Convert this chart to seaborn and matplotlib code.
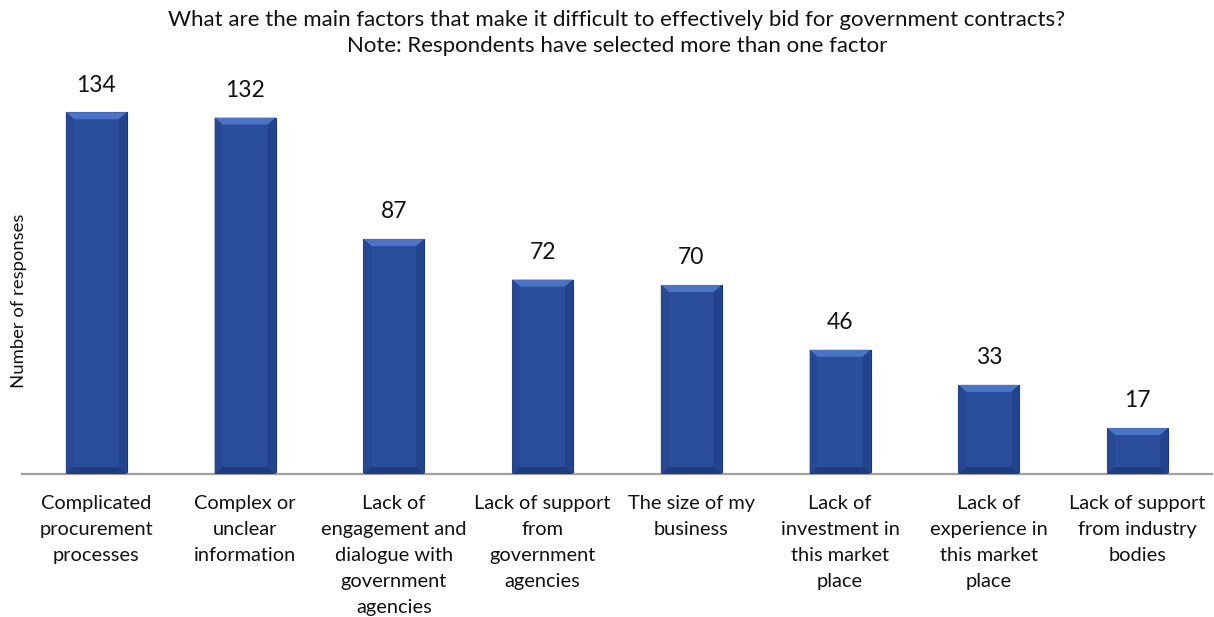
import matplotlib
matplotlib.use("Agg")
import matplotlib.pyplot as plt
import seaborn as sns
import pandas as pd
from matplotlib.patches import Polygon

categories = [
    "Complicated\nprocurement\nprocesses",
    "Complex or\nunclear\ninformation",
    "Lack of\nengagement and\ndialogue with\ngovernment\nagencies",
    "Lack of support\nfrom\ngovernment\nagencies",
    "The size of my\nbusiness",
    "Lack of\ninvestment in\nthis market\nplace",
    "Lack of\nexperience in\nthis market\nplace",
    "Lack of support\nfrom industry\nbodies",
]
responses = [134, 132, 87, 72, 70, 46, 33, 17]

title = ("What are the main factors that make it difficult to effectively bid for government contracts?\n"
         "Note: Respondents have selected more than one factor")
ylabel = "Number of responses"

sns.set_theme(style="white")
plt.rcParams['font.family'] = ['Lato', 'DejaVu Sans']

W, H = 1214, 617
fig = plt.figure(figsize=(W / 100, H / 100), dpi=100)
ax = fig.add_axes([22 / W, (617 - 474) / H, 1190 / W, 405 / H])

df = pd.DataFrame({"cat": categories, "val": responses})
sns.barplot(data=df, x="cat", y="val", color="#2A4D9C", width=0.41,
            edgecolor="#1C3772", linewidth=0.8, saturation=1, ax=ax)

ax.set_ylim(0, 150)
ax.set_xlim(-0.5, len(categories) - 0.5)

# bevel effect derived from bar geometry
px_x = 1.0 / 148.75
px_y = 150.0 / 405
bars = list(ax.patches)
for p in bars:
    x, w, h = p.get_x(), p.get_width(), p.get_height()
    dx, dy = 8 * px_x, 7 * px_y
    dx, dy = min(dx, w / 2), min(dy, h / 2)
    top = Polygon([(x, h), (x + w, h), (x + w - dx, h - dy), (x + dx, h - dy)],
                  closed=True, facecolor="#4A74C4", edgecolor="none", zorder=3)
    left = Polygon([(x, h), (x + dx, h - dy), (x + dx, dy), (x, 0)],
                   closed=True, facecolor="#274995", edgecolor="none", zorder=3)
    right = Polygon([(x + w, h), (x + w - dx, h - dy), (x + w - dx, dy), (x + w, 0)],
                    closed=True, facecolor="#24438D", edgecolor="none", zorder=3)
    bottom = Polygon([(x, 0), (x + w, 0), (x + w - dx, dy), (x + dx, dy)],
                     closed=True, facecolor="#1F3C7E", edgecolor="none", zorder=3)
    for poly in (top, left, right, bottom):
        ax.add_patch(poly)

for p, v in zip(bars, responses):
    ax.annotate(str(v), (p.get_x() + p.get_width() / 2, p.get_height()),
                xytext=(0, 12), textcoords="offset points",
                ha="center", va="bottom", fontsize=16.5, color="#111111")

ax.set_yticks([])
ax.set_xlabel("")
ax.set_ylabel("")
ax.tick_params(axis="x", length=0, pad=15, labelsize=14.4, labelcolor="#111111")
for lbl in ax.get_xticklabels():
    lbl.set_linespacing(1.64)
    lbl.set_ha("center")
for s in ["top", "right", "left"]:
    ax.spines[s].set_visible(False)
ax.spines["bottom"].set_color("#A0A0A0")
ax.spines["bottom"].set_linewidth(1.6)

fig.text(19 / W, 1 - 301 / H, ylabel, rotation=90, ha="center", va="center",
         fontsize=13.3, color="#111111")
fig.text(617 / W, 1 - 33 / H, title, ha="center", va="center",
         fontsize=16, color="#111111", linespacing=1.42)

fig.savefig("out.png", dpi=100, facecolor="white")
